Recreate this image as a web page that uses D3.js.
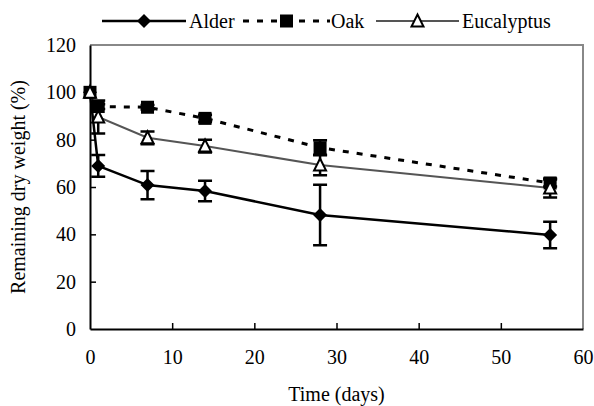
<!DOCTYPE html>
<html>
<head>
<meta charset="utf-8">
<script src="https://cdn.jsdelivr.net/npm/d3@7"></script>
<style>
  body { margin: 0; background: #fff; }
  svg text { font-family: "Liberation Serif", "Times New Roman", serif !important; }
</style>
</head>
<body>
<div id="chart"></div>
<script>
const days = [0, 1, 7, 14, 28, 56];
const alder = [100, 68.9, 60.8, 58.3, 48.2, 39.7];
const alderErr = [0, 4.6, 6, 4.3, 12.8, 5.6];
const oak = [100, 94.0, 93.7, 89.0, 76.6, 61.7];
const oakErr = [0, 1, 1, 1.5, 3.2, 1.5];
const euc = [100, 89.6, 80.8, 77.3, 69.3, 59.6];
const eucErr = [0, 7, 2.7, 2.7, 4.3, 4];
const xTicks = [0, 10, 20, 30, 40, 50, 60];
const yTicks = [0, 20, 40, 60, 80, 100, 120];

const width = 594, height = 406;
const margin = { top: 45, right: 11, bottom: 77, left: 90 };

const svg = d3.select("#chart").append("svg")
  .attr("width", width)
  .attr("height", height);

const x = d3.scaleLinear().domain([0, 60]).range([margin.left, width - margin.right]);
const y = d3.scaleLinear().domain([0, 120]).range([height - margin.bottom, margin.top]);

// plot area border (gray top/right)
svg.append("path")
  .attr("d", `M${x(0)},${y(120)}H${x(60)}V${y(0)}`)
  .attr("fill", "none")
  .attr("stroke", "#888")
  .attr("stroke-width", 2);

// axes with inward ticks
const xAxis = svg.append("g")
  .attr("transform", `translate(0,${y(0)})`)
  .call(d3.axisBottom(x).tickValues(xTicks).tickSizeInner(-6).tickSizeOuter(0).tickPadding(21));
const yAxis = svg.append("g")
  .attr("transform", `translate(${x(0)},0)`)
  .call(d3.axisLeft(y).tickValues(yTicks).tickSizeInner(-6).tickSizeOuter(0).tickPadding(14));

[xAxis, yAxis].forEach(g => {
  g.attr("font-family", "Liberation Serif").attr("font-size", 20);
  g.select(".domain").attr("stroke", "#000").attr("stroke-width", 2);
  g.selectAll(".tick line").attr("stroke", "#000").attr("stroke-width", 1.5);
  g.selectAll(".tick text").attr("fill", "#000");
});
xAxis.selectAll(".tick line").filter(d => d === 0 || d === 60).remove();
yAxis.selectAll(".tick line").filter(d => d === 0 || d === 120).remove();

svg.append("text")
  .attr("x", x(30))
  .attr("y", 401)
  .attr("text-anchor", "middle")
  .attr("font-size", 20)
  .text("Time (days)");

svg.append("text")
  .attr("transform", `translate(25,${(y(0) + y(120)) / 2}) rotate(-90)`)
  .attr("text-anchor", "middle")
  .attr("font-size", 20)
  .text("Remaining dry weight (%)");

const series = [
  { name: "Alder", vals: alder, err: alderErr, color: "#000", width: 2.5, dash: null, marker: "diamond" },
  { name: "Oak", vals: oak, err: oakErr, color: "#000", width: 3, dash: "6,8", marker: "square" },
  { name: "Eucalyptus", vals: euc, err: eucErr, color: "#555", width: 2, dash: null, marker: "triangle" }
];

function drawMarker(g, type, cx, cy) {
  if (type === "diamond") {
    g.append("path")
      .attr("d", `M${cx},${cy - 7}L${cx + 7},${cy}L${cx},${cy + 7}L${cx - 7},${cy}Z`)
      .attr("fill", "#000");
  } else if (type === "square") {
    g.append("rect")
      .attr("x", cx - 6.5).attr("y", cy - 6.5)
      .attr("width", 13).attr("height", 13)
      .attr("fill", "#000");
  } else {
    g.append("path")
      .attr("d", `M${cx},${cy - 6.5}L${cx + 6},${cy + 5.5}L${cx - 6},${cy + 5.5}Z`)
      .attr("fill", "#fff")
      .attr("stroke", "#000")
      .attr("stroke-width", 2);
  }
}

const line = d3.line().x(d => x(d[0])).y(d => y(d[1]));

// lines
series.forEach(s => {
  svg.append("path")
    .datum(days.map((d, i) => [d, s.vals[i]]))
    .attr("d", line)
    .attr("fill", "none")
    .attr("stroke", s.color)
    .attr("stroke-width", s.width)
    .attr("stroke-dasharray", s.dash);
});

// error bars + markers
series.forEach(s => {
  const g = svg.append("g");
  days.forEach((d, i) => {
    if (s.err[i] > 0) {
      const cx = x(d), y1 = y(s.vals[i] + s.err[i]), y2 = y(s.vals[i] - s.err[i]);
      g.append("path")
        .attr("d", `M${cx},${y1}V${y2}M${cx - 7},${y1}H${cx + 7}M${cx - 7},${y2}H${cx + 7}`)
        .attr("fill", "none")
        .attr("stroke", "#000")
        .attr("stroke-width", 2.5);
    }
  });
  days.forEach((d, i) => drawMarker(g, s.marker, x(d), y(s.vals[i])));
});

// legend
const legend = [
  { x0: 102, x1: 186, tx: 189 },
  { x0: 243, x1: 330, tx: 331 },
  { x0: 376, x1: 459, tx: 462 }
];
const ly = 21;
series.forEach((s, i) => {
  const L = legend[i];
  const g = svg.append("g");
  g.append("line")
    .attr("x1", L.x0).attr("x2", L.x1)
    .attr("y1", ly).attr("y2", ly)
    .attr("stroke", s.color)
    .attr("stroke-width", s.width)
    .attr("stroke-dasharray", s.dash);
  drawMarker(g, s.marker, (L.x0 + L.x1) / 2, ly);
  g.append("text")
    .attr("x", L.tx).attr("y", ly + 7)
    .attr("font-size", 20)
    .text(s.name);
});
</script>
</body>
</html>
